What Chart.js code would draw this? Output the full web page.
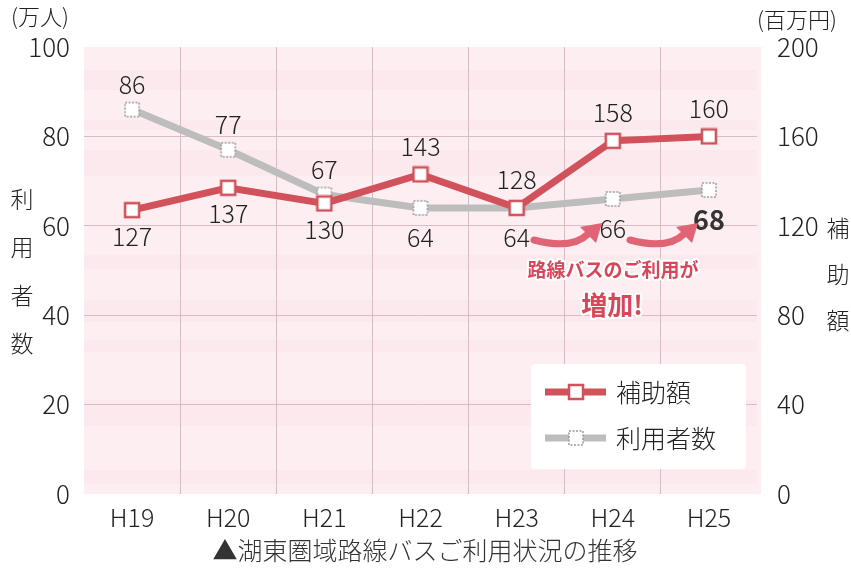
<!DOCTYPE html>
<html>
<head>
<meta charset="utf-8">
<script src="https://cdn.jsdelivr.net/npm/chart.js@4"></script>
<style>
  body { margin: 0; background: #fff; }
  canvas { display: block; }
</style>
</head>
<body>
<canvas id="myChart" width="851" height="570"></canvas>
<script>
const years = ['H19', 'H20', 'H21', 'H22', 'H23', 'H24', 'H25'];
const subsidy = [127, 137, 130, 143, 128, 158, 160];   // 百万円 (right axis)
const riders = [86, 77, 67, 64, 64, 66, 68];           // 万人 (left axis)
const leftTicks = [0, 20, 40, 60, 80, 100];
const rightTicks = [0, 40, 80, 120, 160, 200];

const RED = '#d2525b';
const GRAY = '#bdbdbd';
const FONT = '"Noto Sans CJK JP", "Noto Sans", sans-serif';

// point markers as small canvases
function makeMarker(color, dashed) {
    const c = document.createElement('canvas');
    c.width = 18; c.height = 18;
    const g = c.getContext('2d');
    g.fillStyle = '#fff';
    g.fillRect(2, 2, 14, 14);
    g.strokeStyle = color;
    g.lineWidth = dashed ? 1.5 : 2.5;
    if (dashed) g.setLineDash([2, 1.5]);
    g.strokeRect(2, 2, 14, 14);
    return c;
}
const redMarker = makeMarker(RED, false);
const grayMarker = makeMarker('#9a9a9a', true);

const hidden = 'rgba(0,0,0,0)';

const chartDeco = {
    id: 'chartDeco',
    beforeDraw(chart) {
        const { ctx, chartArea: a } = chart;
        ctx.save();
        ctx.fillStyle = '#fdeef2';
        ctx.fillRect(a.left, a.top, a.right - a.left + 4, a.bottom - a.top);
        // faint bands of the printed page behind
        ctx.fillStyle = 'rgba(236, 200, 210, 0.13)';
        [[70, 20], [120, 10], [150, 26], [255, 14], [300, 22], [340, 12], [400, 26], [470, 14]].forEach(b => {
            ctx.fillRect(a.left, b[0], a.right - a.left, b[1]);
        });
        ctx.restore();
    },
    afterDatasetsDraw(chart) {
        const { ctx } = chart;
        const red = chart.getDatasetMeta(0).data;
        const gray = chart.getDatasetMeta(1).data;
        ctx.save();
        ctx.textAlign = 'center';
        ctx.textBaseline = 'middle';
        ctx.fillStyle = '#222';
        ctx.font = '300 25px ' + FONT;
        red.forEach((p, i) => {
            const dy = i < 3 ? 26 : -28;
            ctx.fillText(subsidy[i], p.x, p.y + dy);
        });
        gray.forEach((p, i) => {
            const dy = i < 3 ? -25 : 30;
            if (i === riders.length - 1) {
                ctx.font = 'bold 27px ' + FONT;
                ctx.fillStyle = '#333';
            } else {
                ctx.font = '300 25px ' + FONT;
            }
            ctx.fillText(riders[i], p.x, p.y + dy);
        });

        // arrows
        ctx.strokeStyle = '#e06474';
        ctx.fillStyle = '#e06474';
        ctx.lineWidth = 7;
        ctx.lineCap = 'round';
        function arrow(x0, y0) {
            ctx.beginPath();
            ctx.moveTo(x0, y0);
            ctx.quadraticCurveTo(x0 + 38, y0 + 10, x0 + 54, y0 - 6);
            ctx.stroke();
            ctx.beginPath();
            ctx.moveTo(x0 + 68, y0 - 17);
            ctx.lineTo(x0 + 46, y0 - 13);
            ctx.lineTo(x0 + 62, y0 + 3);
            ctx.closePath();
            ctx.fill();
        }
        arrow(534, 240);
        arrow(630, 240);

        // annotation text
        ctx.lineWidth = 4;
        ctx.lineJoin = 'round';
        ctx.strokeStyle = '#fff';
        ctx.fillStyle = '#d9465a';
        ctx.font = 'bold 19px ' + FONT;
        ctx.strokeText('路線バスのご利用が', 613, 270);
        ctx.fillText('路線バスのご利用が', 613, 270);
        ctx.font = 'bold 26px ' + FONT;
        ctx.strokeText('増加!', 612, 305);
        ctx.fillText('増加!', 612, 305);

        // legend box
        ctx.fillStyle = '#fff';
        ctx.beginPath();
        ctx.roundRect(531, 364, 215, 105, 4);
        ctx.fill();
        const items = [
            { label: chart.data.datasets[0].label, color: RED, marker: redMarker, y: 392 },
            { label: chart.data.datasets[1].label, color: GRAY, marker: grayMarker, y: 438 }
        ];
        items.forEach(it => {
            ctx.strokeStyle = it.color;
            ctx.lineWidth = 7;
            ctx.lineCap = 'butt';
            ctx.beginPath();
            ctx.moveTo(545, it.y);
            ctx.lineTo(606, it.y);
            ctx.stroke();
            ctx.drawImage(it.marker, 567, it.y - 9);
            ctx.fillStyle = '#222';
            ctx.textAlign = 'left';
            ctx.font = '300 25px ' + FONT;
            ctx.fillText(it.label, 616, it.y);
        });
        ctx.restore();
    },
    afterDraw(chart) {
        const { ctx } = chart;
        ctx.save();
        ctx.fillStyle = '#222';
        ctx.textAlign = 'center';
        ctx.textBaseline = 'middle';
        ctx.font = '300 23px ' + FONT;
        ['利', '用', '者', '数'].forEach((ch, i) => ctx.fillText(ch, 22, 199 + i * 48));
        ['補', '助', '額'].forEach((ch, i) => ctx.fillText(ch, 838, 228 + i * 46));
        ctx.font = '300 22px ' + FONT;
        ctx.fillText('(万人)', 40, 17);
        ctx.fillText('(百万円)', 797, 20);
        ctx.font = '300 25px ' + FONT;
        ctx.fillStyle = '#333';
        ctx.fillText('▲湖東圏域路線バスご利用状況の推移', 425, 550);
        ctx.restore();
    }
};

const ctx = document.getElementById('myChart').getContext('2d');
const myChart = new Chart(ctx, {
    type: 'line',
    data: {
        labels: years,
        datasets: [{
            label: '補助額',
            data: subsidy,
            yAxisID: 'y1',
            borderColor: RED,
            borderWidth: 7,
            pointStyle: redMarker,
            tension: 0
        }, {
            label: '利用者数',
            data: riders,
            yAxisID: 'y',
            borderColor: GRAY,
            borderWidth: 7,
            pointStyle: grayMarker,
            tension: 0
        }]
    },
    options: {
        responsive: false,
        animation: false,
        layout: { padding: { top: 47, bottom: 36, left: 0, right: 0 } },
        plugins: {
            legend: { display: false },
            tooltip: { enabled: false }
        },
        scales: {
            x: {
                offset: true,
                grid: {
                    offset: true,
                    drawTicks: false,
                    color: c => (c.type !== 'tick' || c.index === 0) ? hidden : '#dcbcc4'
                },
                border: { display: false },
                ticks: { color: '#222', padding: 8, font: { family: FONT, size: 25, weight: '300' } },
                afterFit: s => { s.height = 40; }
            },
            y: {
                position: 'left',
                min: 0,
                max: 100,
                afterBuildTicks: s => { s.ticks = leftTicks.map(v => ({ value: v })); },
                grid: {
                    drawTicks: false,
                    color: c => (c.type !== 'tick' || c.tick.value === 0 || c.tick.value === 100) ? hidden : '#dcbcc4'
                },
                border: { display: false },
                ticks: { color: '#222', padding: 14, font: { family: FONT, size: 26, weight: '300' } },
                afterFit: s => { s.width = 84; }
            },
            y1: {
                position: 'right',
                min: 0,
                max: 200,
                afterBuildTicks: s => { s.ticks = rightTicks.map(v => ({ value: v })); },
                grid: { display: false, drawOnChartArea: false },
                border: { display: false },
                ticks: { color: '#222', padding: 12, font: { family: FONT, size: 26, weight: '300' } },
                afterFit: s => { s.width = 94; }
            }
        }
    },
    plugins: [chartDeco]
});
</script>
</body>
</html>
